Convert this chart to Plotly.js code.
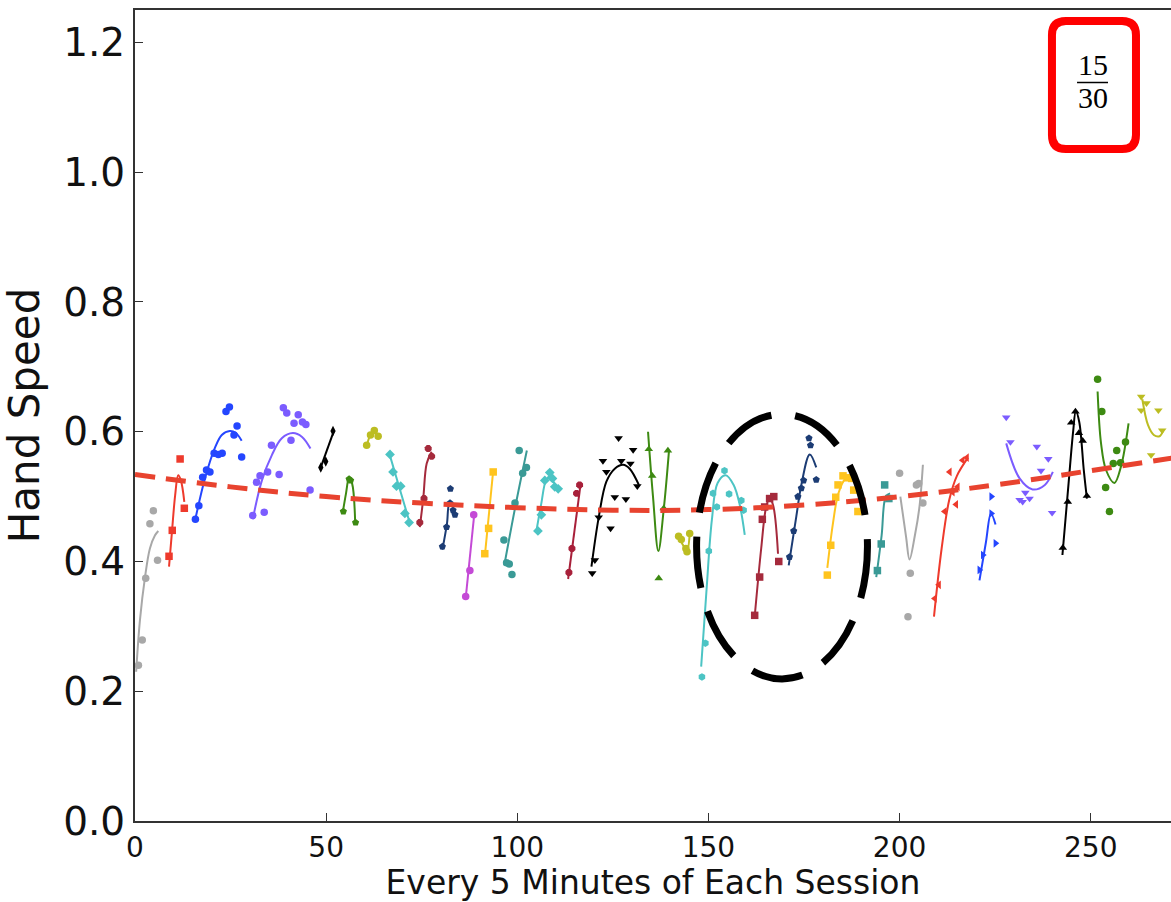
<!DOCTYPE html>
<html>
<head>
<meta charset="utf-8">
<script src="https://cdn.plot.ly/plotly-3.0.1.min.js"></script>
<style>html,body{margin:0;padding:0;background:#fff;}#chart{width:1171px;height:902px;}</style>
</head>
<body>
<div id="chart"></div>
<script>
// ---- data ----
const xTickVals = [0, 50, 100, 150, 200, 250];
const yTickVals = [0, 0.2, 0.4, 0.6, 0.8, 1.0, 1.2];

// measured points, one list per session
const pointX = [
  [0.9,1.9,2.8,3.9,4.8,5.9],
  [8.9,9.75,11.8,12.9],
  [15.8,16.7,17.7,18.7,19.6,20.7,21.8,22.8,23.8,24.7,25.9,26.7,27.9],
  [30.8,31.8,32.7,33.8,34.7,35.7,37.7,38.8,39.7,40.8,41.6,42.7,43.8,44.7,45.8],
  [48.6,49.9,51.8],
  [54.5,56.0,56.4,57.7],
  [60.6,61.6,62.6,63.6],
  [66.7,67.5,68.4,69.5,70.6,71.7],
  [74.5,75.6,76.7,77.6],
  [80.4,81.5,82.4,82.5,83.2,83.7],
  [86.5,87.6,88.6],
  [91.5,92.5,93.7],
  [96.5,97.2,97.9,98.6,99.4,100.5,101.4,102.4],
  [105.4,106.3,107.2,108.5,109.2,109.8,110.7],
  [113.5,114.3,115.5,116.3],
  [119.6,120.3,121.3,122.4,123.3,124.4,125.5,126.5,127.2,128.4,129.6,130.3,131.4],
  [134.4,135.3,137.0,138.3,139.4],
  [142.2,142.9,144.1,144.4,145.1],
  [148.3,149.2,150.1,151.2,152.2,154.2,155.4,158.6,159.2],
  [162.1,163.4,164.1,164.7,166.0,167.1,168.4],
  [171.2,172.3,173.4,174.3,174.9,176.3,176.7,178.2],
  [181.1,182.0,183.3,183.9,185.2,186.4,187.5,188.0,189.1],
  [194.2,195.2,196.1,197.2],
  [200.0,202.2,202.8,204.4,205.0,206.1],
  [209.2,210.3,211.8,213.1,213.9,214.8,215.2,216.5,217.6],
  [220.9,221.8,224.0,224.0,225.1],
  [227.9,229.0,231.4,232.2,232.9,234.0,235.9,237.0,238.9,239.9],
  [242.7,244.0,244.9,246.0,246.9,247.9,249.0],
  [251.8,252.9,253.9,254.9,255.9,256.8,257.8,259.1],
  [263.2,264.6,263.2,267.7,268.7,265.8]
];
const pointY = [
  [0.240,0.279,0.374,0.458,0.478,0.402],
  [0.408,0.448,0.558,0.482],
  [0.465,0.486,0.530,0.541,0.538,0.567,0.565,0.567,0.631,0.638,0.595,0.609,0.561],
  [0.471,0.522,0.532,0.476,0.538,0.579,0.534,0.637,0.629,0.587,0.613,0.626,0.615,0.611,0.510],
  [0.545,0.554,0.601],
  [0.477,0.527,0.525,0.460],
  [0.579,0.595,0.602,0.593],
  [0.565,0.538,0.516,0.516,0.474,0.460],
  [0.460,0.497,0.574,0.562],
  [0.423,0.453,0.490,0.512,0.479,0.472],
  [0.346,0.386,0.472],
  [0.412,0.451,0.538],
  [0.433,0.398,0.396,0.380,0.490,0.571,0.536,0.545],
  [0.447,0.472,0.525,0.537,0.528,0.515,0.512],
  [0.383,0.420,0.505,0.518],
  [0.382,0.402,0.468,0.555,0.538,0.451,0.499,0.590,0.555,0.496,0.551,0.572,0.516],
  [0.573,0.532,0.374,0.482,0.571],
  [0.439,0.434,0.420,0.415,0.443],
  [0.222,0.274,0.416,0.505,0.484,0.540,0.504,0.494,0.479],
  [0.317,0.376,0.465,0.484,0.497,0.500,0.400],
  [0.407,0.447,0.500,0.513,0.525,0.590,0.579,0.526],
  [0.379,0.425,0.499,0.518,0.532,0.529,0.528,0.510,0.477],
  [0.386,0.427,0.518,0.497],
  [0.536,0.315,0.382,0.518,0.520,0.490],
  [0.343,0.364,0.477,0.538,0.507,0.488,0.515,0.556,0.560],
  [0.387,0.410,0.500,0.474,0.428],
  [0.622,0.584,0.495,0.492,0.506,0.497,0.577,0.540,0.558,0.475],
  [0.421,0.492,0.614,0.631,0.598,0.586,0.501],
  [0.681,0.631,0.514,0.477,0.551,0.571,0.552,0.584],
  [0.654,0.644,0.633,0.633,0.602,0.564]
];

// fitted curve of each session
const fitX = [
  [0.3,1.3,2.6,3.9,5.2,6.1],
  [8.9,9.7,10.5,11.3,12.0,12.9],
  [15.7,18.3,20.9,22.7,24.8,26.4,27.9],
  [30.8,33.2,35.8,38.4,41.3,43.7,45.9],
  [48.4,52.0],
  [54.3,55.2,56.0,56.8,57.6],
  [60.6,61.6,62.6,63.6],
  [66.5,69.2,71.9],
  [74.5,75.4,76.3,77.6],
  [80.4,81.6,82.3,83.2],
  [86.5,88.8],
  [91.5,93.7],
  [96.6,99.5,102.5],
  [105.0,106.3,107.5,108.5,110.1],
  [113.3,116.6],
  [119.4,121.3,123.3,125.5,127.7,129.4,131.8],
  [134.2,135.5,136.9,138.3,139.7],
  [142.2,143.7,144.4,145.1],
  [148.1,149.5,150.9,152.4,154.5,156.6,158.2,159.5],
  [162.1,163.8,165.1,166.0,166.9,168.2],
  [171.0,173.0,174.3,176.5,178.2],
  [181.1,182.6,184.0,185.8,187.5,189.5,190.4],
  [193.9,195.3,196.4,197.5],
  [200.2,201.7,202.6,204.0,205.2,206.1],
  [209.0,211.0,213.0,215.0,217.9],
  [220.9,222.6,223.9,225.1],
  [227.9,231.4,234.8,238.0,240.1],
  [242.6,244.2,245.4,246.1,247.0,248.2,249.0],
  [251.8,252.7,254.0,256.2,257.9,259.9],
  [263.5,265.0,266.5,268.0,269.0]
];
const fitY = [
  [0.230,0.310,0.375,0.420,0.440,0.447],
  [0.392,0.448,0.502,0.533,0.525,0.492],
  [0.463,0.528,0.575,0.595,0.601,0.598,0.586],
  [0.465,0.525,0.564,0.590,0.598,0.592,0.574],
  [0.542,0.601],
  [0.474,0.505,0.529,0.520,0.459],
  [0.578,0.595,0.600,0.594],
  [0.567,0.513,0.459],
  [0.453,0.497,0.551,0.569],
  [0.418,0.458,0.490,0.489],
  [0.343,0.476],
  [0.408,0.540],
  [0.394,0.485,0.571],
  [0.447,0.490,0.525,0.531,0.515],
  [0.373,0.521],
  [0.392,0.468,0.523,0.543,0.549,0.543,0.518],
  [0.600,0.500,0.416,0.480,0.572],
  [0.437,0.422,0.416,0.443],
  [0.238,0.356,0.464,0.521,0.533,0.518,0.487,0.441],
  [0.315,0.420,0.484,0.497,0.487,0.412],
  [0.394,0.470,0.518,0.565,0.545],
  [0.390,0.460,0.505,0.527,0.527,0.505,0.490],
  [0.376,0.440,0.500,0.505],
  [0.500,0.438,0.403,0.440,0.484,0.549],
  [0.315,0.420,0.495,0.532,0.560],
  [0.371,0.430,0.474,0.457],
  [0.582,0.528,0.511,0.518,0.538],
  [0.410,0.520,0.600,0.632,0.615,0.540,0.497],
  [0.662,0.582,0.541,0.521,0.546,0.613],
  [0.650,0.610,0.595,0.593,0.602]
];

// overall trend (red dashed)
const trendX = [0, 25, 50, 75, 100, 125, 150, 175, 200, 225, 250, 272];
const trendY = [0.534, 0.515, 0.500, 0.490, 0.483, 0.479, 0.480, 0.487, 0.500, 0.518, 0.540, 0.560];

// ---- styles ----
const segColors = ['#a8a8a8','#ee3a2c','#2446ff','#7b5cff','#000000','#3d8a12','#bcbd22','#4cc4c4','#a52a3c','#1c3c74',
  '#c44ad6','#ffc41e','#3a9a96','#4cc4c4','#a8203a','#000000','#3d8a12','#bcbd22','#4cc4c4','#a52a3c',
  '#1c3c74','#ffc41e','#3a9a96','#a8a8a8','#ee3a2c','#2446ff','#7b5cff','#000000','#3d8a12','#bcbd22'];
const segSymbols = ['circle','square','circle','circle','diamond-tall','pentagon','circle','diamond','octagon','pentagon',
  'circle','square','circle','diamond','octagon','triangle-down','triangle-up','circle','hexagon','square',
  'pentagon','square','square','circle','triangle-left','triangle-right','triangle-down','triangle-up','circle','triangle-down'];

const traces = [];
for (let i = 0; i < pointX.length; i++) {
  traces.push({
    x: fitX[i], y: fitY[i], mode: 'lines', type: 'scatter',
    line: {color: segColors[i], width: 2, shape: 'spline', smoothing: 1},
    hoverinfo: 'skip'
  });
  traces.push({
    x: pointX[i], y: pointY[i], mode: 'markers', type: 'scatter',
    marker: {color: segColors[i], symbol: segSymbols[i], size: 7.5, line: {width: 0}}
  });
}
traces.push({
  x: trendX, y: trendY, mode: 'lines', type: 'scatter',
  line: {color: '#e8432f', width: 5, dash: '20px,11px', shape: 'spline', smoothing: 1.1}
});

// geometry of the red rounded box (paper coords)
const L = 0.8851, R = 0.9662, T = 0.9864, B = 0.8286, rx = 0.0135, ry = 0.0173;
const rrPath = `M ${L+rx},${T} L ${R-rx},${T} Q ${R},${T} ${R},${T-ry} L ${R},${B+ry} Q ${R},${B} ${R-rx},${B} ` +
  `L ${L+rx},${B} Q ${L},${B} ${L},${B+ry} L ${L},${T-ry} Q ${L},${T} ${L+rx},${T} Z`;

const FONT = 'DejaVu Sans, sans-serif';
const layout = {
  width: 1171, height: 902,
  margin: {l: 135, r: 0, t: 10, b: 81},
  paper_bgcolor: '#ffffff', plot_bgcolor: '#ffffff',
  showlegend: false,
  xaxis: {
    range: [0, 271], tickvals: xTickVals, ticktext: xTickVals.map(String),
    ticks: 'inside', ticklen: 8, tickwidth: 1, tickcolor: '#333',
    showline: true, linecolor: '#333', linewidth: 2, mirror: true,
    showgrid: false, zeroline: false,
    tickfont: {family: FONT, size: 28, color: '#111'},
    title: {text: 'Every 5 Minutes of Each Session', standoff: 10,
            font: {family: FONT, size: 33, color: '#111'}}
  },
  yaxis: {
    range: [0, 1.25], tickvals: yTickVals, tickformat: '.1f',
    ticks: 'inside', ticklen: 8, tickwidth: 1, tickcolor: '#333',
    showline: true, linecolor: '#333', linewidth: 2, mirror: false,
    showgrid: false, zeroline: false,
    tickfont: {family: FONT, size: 39, color: '#111'},
    title: {text: 'Hand Speed', standoff: 20,
            font: {family: FONT, size: 42, color: '#111'}}
  },
  shapes: [
    {type: 'circle', xref: 'x', yref: 'y', x0: 146.9, x1: 191.6, y0: 0.219, y1: 0.627,
     line: {color: '#000', width: 7, dash: '52px,24px'}},
    {type: 'path', xref: 'paper', yref: 'paper', path: rrPath,
     line: {color: '#ff0000', width: 8}},
    {type: 'line', xref: 'paper', yref: 'paper', x0: 0.9093, x1: 0.9392, y0: 0.9106, y1: 0.9106,
     line: {color: '#000', width: 1.5}}
  ],
  annotations: [
    {xref: 'paper', yref: 'paper', x: 0.9247, y: 0.9334, xanchor: 'center', yanchor: 'middle',
     text: '15', showarrow: false,
     font: {family: 'Liberation Serif, DejaVu Serif, serif', size: 30, color: '#000'}},
    {xref: 'paper', yref: 'paper', x: 0.9247, y: 0.8915, xanchor: 'center', yanchor: 'middle',
     text: '30', showarrow: false,
     font: {family: 'Liberation Serif, DejaVu Serif, serif', size: 30, color: '#000'}}
  ]
};

Plotly.newPlot('chart', traces, layout, {displayModeBar: false, staticPlot: true});
</script>
</body>
</html>
